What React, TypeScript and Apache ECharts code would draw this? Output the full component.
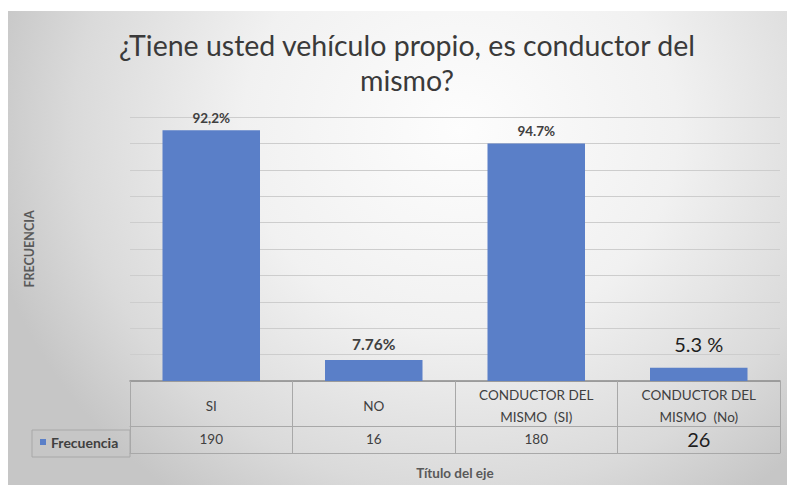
import React, { useEffect, useRef } from "react";
import * as echarts from "echarts";

const categories = ["SI", "NO", "CONDUCTOR DEL\nMISMO  (SI)", "CONDUCTOR DEL\nMISMO  (No)"];
const barValues = [190, 16, 180, 10];
const tableValues = ["190", "16", "180", "26"];
const pctLabels = ["92,2%", "7.76%", "94.7%", "5.3 %"];
const seriesName = "Frecuencia";
const yTicks = { min: 0, max: 200, interval: 20 };

const FONT = "Lato, 'Open Sans', sans-serif";

const labelLook = [
  { fontSize: 13.5, fontWeight: "bold", color: "#404040", distance: 5 },
  { fontSize: 15.5, fontWeight: "bold", color: "#404040", distance: 8 },
  { fontSize: 13.5, fontWeight: "bold", color: "#404040", distance: 5 },
  { fontSize: 20, fontWeight: "normal", color: "#1e1e1e", distance: 14 },
];

export default function App() {
  const ref = useRef<HTMLDivElement>(null);
  useEffect(() => {
    if (!ref.current) return;
    const chart = echarts.init(ref.current, undefined, { renderer: "svg" });
    const grid = { left: 130, right: 7, top: 117, bottom: 100 };
    chart.setOption({
      animation: false,
      textStyle: { fontFamily: FONT },
      title: {
        text: "¿Tiene usted vehículo propio, es conductor del\nmismo?",
        left: 402,
        textAlign: "center",
        top: 22,
        textStyle: { fontFamily: FONT, fontSize: 28.5, fontWeight: "normal", color: "#3a3a3a", lineHeight: 35 },
      },
      legend: {
        data: [seriesName],
        left: 35,
        top: 430,
        icon: "rect",
        itemWidth: 6,
        itemHeight: 6,
        itemGap: 4,
        textStyle: { fontFamily: FONT, fontSize: 14, fontWeight: "bold", color: "#404040" },
      },
      grid,
      xAxis: [
        {
          type: "category",
          data: categories,
          position: "bottom",
          axisLine: { show: true, lineStyle: { color: "#8a8a8a", width: 1.5 } },
          axisTick: { show: true, length: 72, lineStyle: { color: "#a8a8a8" } },
          axisLabel: {
            interval: 0,
            margin: 25,
            verticalAlign: "middle",
            fontSize: 13.5,
            lineHeight: 22,
            color: "#404040",
            fontFamily: FONT,
          },
        },
        {
          type: "category",
          data: tableValues,
          position: "bottom",
          offset: 45,
          axisLine: { show: true, lineStyle: { color: "#a8a8a8" } },
          axisTick: { show: false },
          axisLabel: {
            interval: 0,
            margin: 13,
            verticalAlign: "middle",
            fontFamily: FONT,
            formatter: (v: string, i: number) => (i === 3 ? `{big|${v}}` : `{n|${v}}`),
            rich: {
              n: { fontSize: 13.5, color: "#404040", fontFamily: FONT },
              big: { fontSize: 20, color: "#1e1e1e", fontFamily: FONT },
            },
          },
        },
        {
          type: "category",
          data: tableValues,
          position: "bottom",
          offset: 72,
          axisLine: { show: true, lineStyle: { color: "#a8a8a8" } },
          axisTick: { show: false },
          axisLabel: { show: false },
          name: "Título del eje",
          nameLocation: "middle",
          nameGap: 13,
          nameTextStyle: { fontFamily: FONT, fontSize: 13.5, fontWeight: "bold", color: "#595959" },
        },
      ],
      yAxis: {
        type: "value",
        min: yTicks.min,
        max: yTicks.max,
        interval: yTicks.interval,
        axisLabel: { show: false },
        axisLine: { show: false },
        axisTick: { show: false },
        splitLine: { lineStyle: { color: "#cdcdcd" } },
        name: "FRECUENCIA",
        nameLocation: "middle",
        nameGap: 94,
        nameTextStyle: { fontFamily: FONT, fontSize: 12.5, fontWeight: "bold", color: "#595959" },
      },
      graphic: [
        {
          type: "rect",
          shape: { x: 32, y: 430, width: 98, height: 27 },
          style: { fill: "none", stroke: "#a8a8a8", lineWidth: 1 },
          silent: true,
        },
      ],
      series: [
        {
          name: seriesName,
          type: "bar",
          xAxisIndex: 0,
          barWidth: "60%",
          itemStyle: { color: "#5a7fc8" },
          data: barValues.map((v, i) => ({
            value: v,
            label: {
              show: true,
              position: "top",
              formatter: pctLabels[i],
              fontFamily: FONT,
              ...labelLook[i],
            },
          })),
        },
      ],
    });
    return () => chart.dispose();
  }, []);

  return (
    <div style={{ position: "fixed", left: 0, top: 0, width: 787, height: 485, background: "#ffffff" }}>
      <div
        style={{
          position: "absolute",
          left: 8,
          top: 11,
          width: 779,
          height: 474,
          background:
            "radial-gradient(ellipse 62% 95% at 58% 25%, #fdfdfd 0%, #f1f1f1 45%, #dadada 80%, #c6c6c6 100%)",
        }}
      />
      <div ref={ref} style={{ position: "absolute", left: 0, top: 0, width: 787, height: 485 }} />
    </div>
  );
}
